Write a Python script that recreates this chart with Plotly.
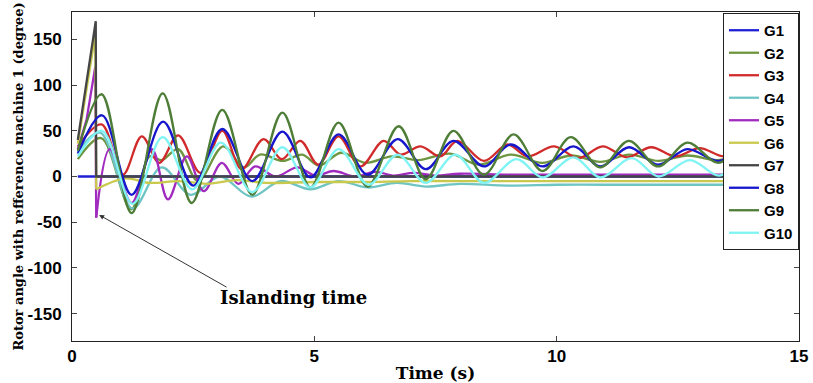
import plotly.graph_objects as go

# ---------------- data (key points) ----------------
T_G1 = [0.12, 15.0]
V_G1 = [0, 0]

T_G2 = [0.12, 0.60, 1.22, 1.60, 1.85, 2.19, 2.60, 3.12, 3.55, 3.88, 4.35, 4.75, 5.10, 5.55, 6.05,
        6.60, 7.15, 7.80, 8.40, 9.05, 9.70, 10.30, 10.90, 11.50, 12.10, 12.70, 13.30, 13.90, 14.50, 15.0]
V_G2 = [19, 42, -36, 22, 18, 30, -5, 33, 10, 24, 17, 24, 12, 26, 15,
        22, 18, 25, 13, 24, 15, 23, 16, 24, 17, 23, 18, 22, 18, 20]

T_G3 = [0.12, 0.61, 1.05, 1.44, 1.80, 2.19, 2.65, 3.10, 3.50, 3.95, 4.33, 4.71, 5.08, 5.50, 5.95,
        6.43, 6.78, 7.19, 7.60, 7.95, 8.50, 8.99, 9.40, 9.95, 10.45, 10.95, 11.45, 11.95, 12.45,
        12.95, 13.45, 13.95, 14.45, 15.0]
V_G3 = [33, 57, 2, 44, 15, 45, 4, 50, 8, 41, 19, 39, 13, 44, 11,
        39, 24, 33, 22, 39, 17, 35, 22, 33, 20, 33, 21, 32, 22,
        31, 22, 30, 23, 28]

T_G4 = [0.12, 0.58, 1.25, 1.85, 2.45, 3.05, 3.70, 4.30, 4.92, 5.50, 6.10, 6.70, 7.30, 8.0,
        9.0, 10.0, 11.0, 12.0, 13.0, 14.0, 15.0]
V_G4 = [27, 48, -35, 10, -20, 0, -22, -5, -14, -5, -12, -7, -11, -8,
        -10, -9, -9, -9, -9, -9, -9]

T_G5_PRE = [0.12, 0.30, 0.48, 0.50]
V_G5_PRE = [30, 62, 120, -45]
T_G5 = [0.50, 0.78, 1.23, 1.65, 1.98, 2.37, 2.72, 3.09, 3.43, 3.78, 4.20, 4.65, 5.02, 5.40,
        5.85, 6.25, 6.65, 7.05, 7.50, 8.0, 9.0, 10.0, 11.0, 12.0, 13.0, 15.0]
V_G5 = [-45, 30, -29, 30, -25, 22, -16, 15, -8, 11, 0, 10, 1, 6,
        0, 5, 1, 4, 1, 3, 2, 2, 2, 2, 2, 2]

T_G6_PRE = [0.12, 0.48, 0.50]
V_G6_PRE = [36, 155, -14]
T_G6 = [0.50, 1.10, 1.60, 2.20, 2.80, 3.40, 4.0, 5.0, 6.0, 7.0, 8.0, 9.0, 10.0, 11.0, 12.0, 13.0, 15.0]
V_G6 = [-14, -2, -7, -5, -8, -4, -7, -6, -6, -5, -5, -5, -5, -5, -5, -5, -5]

T_G7 = [0.12, 0.49, 0.50, 15.0]
V_G7 = [40, 170, 0, 0]

T_G8 = [0.12, 0.62, 1.23, 1.88, 2.50, 3.10, 3.72, 4.34, 4.92, 5.50, 6.10, 6.72, 7.30, 7.87,
        8.50, 9.05, 9.71, 10.35, 10.90, 11.49, 12.09, 12.70, 13.33, 13.92, 14.52, 15.0]
V_G8 = [25, 67, -20, 60, -10, 52, -5, 49, -1, 46, 2, 41, 8, 39,
        11, 35, 11, 33, 11, 32, 13, 30, 17, 29, 19, 26]

T_G9 = [0.12, 0.61, 1.23, 1.87, 2.47, 3.10, 3.72, 4.34, 4.92, 5.50, 6.10, 6.74, 7.30, 7.87,
        8.50, 9.11, 9.71, 10.29, 10.90, 11.49, 12.09, 12.70, 13.33, 13.92, 14.52, 15.0]
V_G9 = [28, 90, -40, 91, -29, 73, -20, 70, -12, 59, -11, 55, -3, 50,
        2, 46, 6, 43, 10, 39, 11, 37, 15, 34, 17, 30]

T_G10 = [0.12, 0.62, 1.25, 1.87, 2.48, 3.07, 3.72, 4.34, 4.92, 5.50, 6.12, 6.72, 7.30, 7.91,
         8.50, 9.17, 9.71, 10.35, 10.90, 11.55, 12.10, 12.75, 13.35, 13.95, 14.55, 15.0]
V_G10 = [22, 50, -30, 43, -14, 37, -17, 32, -12, 30, -9, 24, -7, 24,
         -7, 19, -1, 21, -1, 20, 0, 18, 1, 17, 2, 12]

NAMES = ["G1", "G2", "G3", "G4", "G5", "G6", "G7", "G8", "G9", "G10"]
COLORS = ["#1f1fd6", "#6e9640", "#d12a2a", "#6fc4c4", "#a22bbf",
          "#c9c94e", "#454545", "#1616cc", "#4d7d36", "#80f4f4"]

X_TICKS = [0, 5, 10, 15]
Y_TICKS = [-150, -100, -50, 0, 50, 100, 150]

# ---------------- figure ----------------
fig = go.Figure()

series = {
    "G1": (T_G1, V_G1, None),
    "G2": (T_G2, V_G2, None),
    "G3": (T_G3, V_G3, None),
    "G4": (T_G4, V_G4, None),
    "G5": (T_G5, V_G5, (T_G5_PRE, V_G5_PRE)),
    "G6": (T_G6, V_G6, (T_G6_PRE, V_G6_PRE)),
    "G7": (T_G7, V_G7, None),
    "G8": (T_G8, V_G8, None),
    "G9": (T_G9, V_G9, None),
    "G10": (T_G10, V_G10, None),
}

for name, color in zip(NAMES, COLORS):
    t, v, pre = series[name]
    if pre is not None:
        fig.add_trace(go.Scatter(x=pre[0], y=pre[1], mode="lines", legendgroup=name,
                                 showlegend=False, line=dict(color=color, width=2.3, shape="linear"),
                                 hoverinfo="skip"))
    shape = "linear" if name in ("G1", "G7") else "spline"
    fig.add_trace(go.Scatter(x=t, y=v, mode="lines", name=f"<b>{name}</b>", legendgroup=name,
                             line=dict(color=color, width=2.3, shape=shape, smoothing=1.0)))

TICK_FONT = dict(family="Liberation Sans, Arial, sans-serif", size=17, color="black")

axis_common = dict(showline=True, linecolor="#222222", linewidth=1, mirror="ticks",
                   ticks="inside", ticklen=5, tickcolor="#444444", showgrid=False,
                   zeroline=False, automargin=False, tickfont=TICK_FONT)

fig.update_xaxes(range=[0, 15], tickvals=X_TICKS, ticktext=[f"<b>{x}</b>" for x in X_TICKS],
                 title=dict(text="<b>Time (s)</b>", standoff=1,
                            font=dict(family="DejaVu Serif, serif", size=17, color="black")),
                 **axis_common)
fig.update_yaxes(range=[-180, 180], tickvals=Y_TICKS, ticktext=[f"<b>{y}</b>" for y in Y_TICKS],
                 title=dict(text="<b>Rotor angle with refference machine 1 (degree)</b>", standoff=1,
                            font=dict(family="DejaVu Serif, serif", size=13, color="black")),
                 ticklabelstandoff=6,
                 **axis_common)

fig.add_annotation(x=0.56, y=-42, xref="x", yref="y", ax=3.22, ay=-122, axref="x", ayref="y",
                   text="", showarrow=True, arrowhead=2, arrowsize=1, arrowwidth=1,
                   arrowcolor="#333333")
fig.add_annotation(x=4.58, y=-132, xref="x", yref="y", text="<b>Islanding time</b>",
                   showarrow=False,
                   font=dict(family="DejaVu Serif, serif", size=18, color="black"))

fig.update_layout(
    width=813, height=383,
    margin=dict(l=72, r=14, t=12, b=42),
    paper_bgcolor="white", plot_bgcolor="white",
    legend=dict(x=1, y=0.997, xanchor="right", yanchor="top", bgcolor="white",
                bordercolor="#222222", borderwidth=1, tracegroupgap=0,
                font=dict(family="Liberation Sans, Arial, sans-serif", size=15, color="black")),
)

fig.write_html("out.html")
